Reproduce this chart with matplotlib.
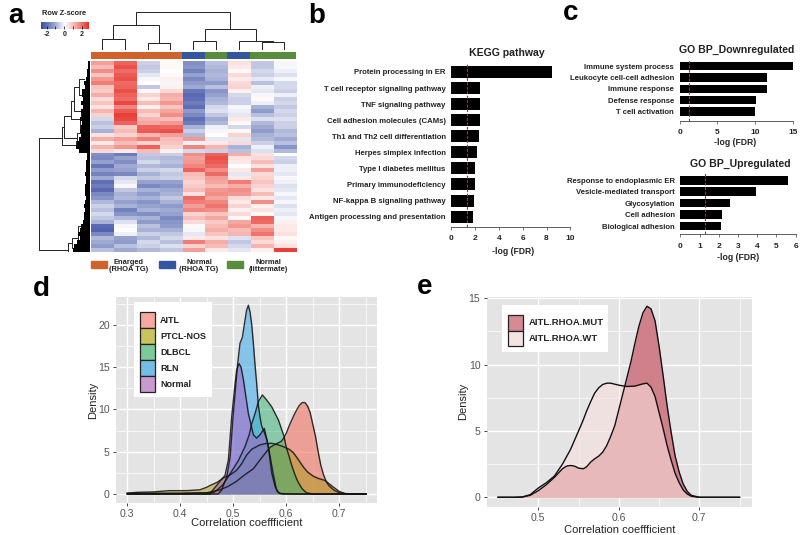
import matplotlib
matplotlib.use("Agg")
import matplotlib.pyplot as plt
import numpy as np
from matplotlib.colors import LinearSegmentedColormap
from matplotlib.patches import Rectangle

plt.rcParams['font.family'] = ['Liberation Sans', 'DejaVu Sans']

# ---------- panel a data ----------
heat_rows = [
 [1.3,2.0,-.6,.1,-1.5,-.8,.4,-.7,-.1],
 [.9,2.2,-.7,.1,-1.4,-.9,.3,-.7,-.1],
 [1.5,1.9,-.6,.0,-1.7,-1.0,.1,-.5,-.2],
 [.8,2.1,-.3,.1,-1.2,-.9,.5,-.6,-.4],
 [1.4,2.2,-.1,.2,-1.6,-1.0,.3,-.3,-.1],
 [1.7,1.9,.0,-.1,-1.3,-1.3,.5,-.8,-.5],
 [.8,2.0,-.7,.2,-1.1,-.8,.6,-.2,-.5],
 [.7,2.2,.1,.5,-1.9,-1.4,.2,-.3,-.6],
 [1.1,2.0,.6,1.1,-2.1,-1.2,-.5,-.1,-.2],
 [.5,1.9,.3,1.0,-2.0,-1.0,-.6,.1,-.6],
 [.8,2.3,.9,1.4,-1.8,-.9,-.6,-.2,-.5],
 [.4,1.6,.2,.8,-2.0,-.5,-.1,-1.0,-.7],
 [1.0,2.1,.9,1.2,-1.3,-.4,-.2,-1.3,-.5],
 [.6,2.4,.6,1.5,-1.6,-.7,-.3,-.8,-.6],
 [-.5,2.3,1.0,.9,-2.0,-1.1,.3,-.4,-.4],
 [-.8,2.0,1.2,1.4,-1.8,-.9,.1,-.9,-.6],
 [-.6,.7,2.0,1.9,-1.0,-.2,-.5,-1.1,-.6],
 [-1.0,.9,2.1,2.2,-.6,-.1,.1,-1.3,-.9],
 [.4,.6,1.0,1.3,-.9,.0,.6,-1.0,-.8],
 [1.1,1.3,1.7,.9,1.4,-.3,-.3,-.9,-1.1],
 [.3,.9,.6,.8,-.2,.3,.5,-.6,-.8],
 [1.0,1.4,2.0,.6,1.6,1.0,-1.0,-.2,-1.4],
 [.5,.3,.9,.2,-.5,-.6,-.8,-.4,-.9],
 [-1.5,-1.8,-.7,-.6,1.5,2.0,1.1,.4,.0],
 [-1.6,-1.2,-.8,-.9,1.3,2.2,.4,.5,-.5],
 [-1.2,-1.5,-.5,-.8,1.4,2.1,.3,.9,-.6],
 [-1.9,-1.1,-.9,-1.0,1.6,1.9,.0,.4,-.2],
 [-1.3,-1.2,-.6,-.5,2.0,1.5,.3,1.3,-.2],
 [-1.7,-1.6,-1.0,-.7,.9,1.9,-.3,.5,-.3],
 [-1.1,-.5,-.7,-.6,.8,1.3,.3,.6,-.1],
 [-2.0,-.3,-1.2,-1.2,.6,1.2,1.7,.8,-.2],
 [-1.8,-.1,-1.6,-1.4,.7,.9,1.1,.6,-.4],
 [-2.1,-.7,-1.0,-1.1,.9,1.4,1.5,.4,-.3],
 [-1.6,-1.0,-1.3,-1.0,.4,1.5,1.4,.9,-.1],
 [-1.4,-.9,-1.0,-.7,1.9,1.2,.5,.3,-.3],
 [-.9,-1.2,-1.4,-1.0,1.7,1.6,.3,1.5,-.1],
 [-.6,-1.0,-1.2,-1.3,1.3,1.8,.6,.2,-.4],
 [-.8,-1.7,-1.0,-1.1,1.6,1.5,.2,.4,-.2],
 [-.5,-1.4,-1.5,-1.2,.6,.8,.5,.1,-.3],
 [-.7,-.9,-1.0,-1.6,.9,1.2,.1,2.0,-.1],
 [-1.0,-.4,-1.3,-1.4,.5,.7,1.2,1.9,.2],
 [-2.1,-.1,-.8,-1.3,.1,.9,1.4,1.0,.3],
 [-2.2,.0,-1.0,-1.0,-.1,1.1,.9,1.5,.3],
 [-1.6,-.2,-.6,-.7,-.3,.8,1.0,1.8,.4],
 [-.9,-1.2,-.9,-.5,.3,.4,-.4,.8,.1],
 [-1.1,-1.3,-.5,-.8,1.7,1.1,-.7,.5,.2],
 [-1.3,-.8,-.6,-.4,.6,.9,-.5,1.0,.4],
 [-.8,-1.1,-.9,-.7,1.3,.3,-.3,.2,2.4],
]
heat_group = ['E', 'E', 'E', 'E', 'NR', 'NI', 'NR', 'NI', 'NI']
group_names = ['Enarged\n(RHOA TG)', 'Normal\n(RHOA TG)', 'Normal\n(littermate)']

# top dendrogram: left pos, left h, right pos, right h, h
col_merges = [
 (0.5, 0, 1.5, 0, 11),
 (2.5, 0, 3.5, 0, 7),
 (1.0, 11, 3.0, 7, 25),
 (4.5, 0, 5.5, 0, 9),
 (7.5, 0, 8.5, 0, 8),
 (6.5, 0, 8.0, 8, 9.5),
 (5.0, 9, 7.25, 9.5, 21),
 (2.0, 25, 6.1, 21, 38),
]
# row dendrogram: row a, h a, row b, h b, h
row_merges = [
 (19.3, 28, 47.5, 22, 51),
 (16.5, 26, 21.1, 14, 28),
 (13.7, 19, 19.4, 13, 26),
 (10.0, 16, 14.6, 10, 19),
 (6.6, 11, 12.5, 9, 16),
 (4.5, 6, 8.5, 8, 11),
 (12.0, 6, 14.5, 5, 9),
 (14.5, 5, 17.5, 7, 10),
 (18.0, 7, 20.5, 10, 13),
 (20.2, 6, 21.8, 3, 14),
 (45.8, 18, 48.0, 3, 22),
 (44.5, 12, 47.0, 8, 18),
 (41.5, 9, 46.0, 6, 12),
 (47.0, 2, 47.9, 2, 8),
]
row_leaf_rows = [i + 0.5 for i in range(48)]
row_leaf_depth = [2, 2, 3, 3, 4, 6, 5, 8, 8, 7, 9, 7, 9, 8, 10, 8, 9, 10, 9, 11, 13, 14, 11,
                  3, 3, 4, 4, 4, 5, 4, 4, 5, 5, 5, 4, 5, 6, 5, 6, 6, 7, 9, 10, 12, 10, 13, 16, 17]

# ---------- panel b / c data ----------
kegg_terms = ['Protein processing in ER', 'T cell receptor signaling pathway', 'TNF signaling pathway',
              'Cell adhesion molecules (CAMs)', 'Th1 and Th2 cell differentiation', 'Herpes simplex infection',
              'Type I diabetes mellitus', 'Primary immunodeficiency', 'NF-kappa B signaling pathway',
              'Antigen processing and presentation']
kegg_vals = [8.5, 2.44, 2.44, 2.44, 2.32, 2.2, 2.0, 1.96, 1.88, 1.85]
down_terms = ['Immune system process', 'Leukocyte cell-cell adhesion', 'Immune response',
              'Defense response', 'T cell activation']
down_vals = [15.0, 11.6, 11.6, 10.1, 10.05]
up_terms = ['Response to endoplasmic ER', 'Vesicle-mediated transport', 'Glycosylation',
            'Cell adhesion', 'Biological adhesion']
up_vals = [5.6, 3.92, 2.58, 2.15, 2.13]
fdr_cut = 1.3

# ---------- panel d data ----------
aitl_x = [.30,.35,.40,.45,.475,.49,.506,.52,.538,.55,.56,.569,.58,.59,.595,.60,.605,.61,.615,.62,.625,.63,.635,.64,.645,.65,.655,.66,.665,.67,.675,.68,.69,.70,.717,.75]
aitl_y = [.1,.1,.1,.15,.5,.9,1.5,2.2,3,4,4.8,5.5,5.9,6.2,6.6,7.2,8,8.7,9.4,10,10.5,10.8,10.8,10.4,9.6,8.2,6.8,5.0,3.4,2.3,1.5,1.0,.45,.15,0,0]
ptcl_x = [.30,.318,.349,.38,.412,.437,.45,.456,.47,.481,.495,.506,.515,.525,.535,.55,.56,.572,.585,.594,.605,.613,.62,.632,.64,.651,.66,.673,.68,.689,.70,.711,.75]
ptcl_y = [.1,.2,.25,.4,.4,.5,.8,1.0,1.4,1.9,2.3,2.8,3.5,4.6,5.3,5.8,5.95,6,5.8,5.6,5.3,4.9,4.3,3.2,2.6,2.1,1.85,1.6,1.25,.8,.3,.05,0]
dlbcl_x = [.30,.40,.44,.462,.47,.48,.49,.50,.51,.522,.53,.5347,.541,.5472,.5548,.563,.5724,.585,.5957,.60,.605,.61,.615,.62,.625,.63,.638,.65,.75]
dlbcl_y = [0,.05,.1,.15,.5,1.1,2,3,4,5.6,7,8.3,9.5,10.9,11.7,11.1,10.3,8.75,6.8,5.5,4.5,3.4,2.5,1.7,1.1,.6,.15,0,0]
rln_x = [.30,.4717,.478,.4875,.494,.50,.5082,.5126,.517,.522,.525,.5284,.5315,.5347,.5378,.541,.544,.5472,.5504,.5535,.5566,.563,.5692,.5755,.5818,.588,.62,.75]
rln_y = [0,0,.5,2,4.4,9.5,15.4,17.8,18.5,20.5,21.7,22.3,21.5,20,17.8,15.2,13.1,10.5,9.1,8,7.6,6.5,4.5,2.3,.4,.05,0,0]
norm_x = [.30,.456,.459,.4717,.4843,.4906,.4969,.5032,.5064,.5108,.5145,.519,.5284,.5378,.544,.5504,.5585,.566,.5724,.5787,.585,.594,.75]
norm_y = [0,0,.28,1.25,2.2,4,9.1,13,14.65,15.4,15,13.5,9.5,7,6.6,7,7.75,5.6,2.5,.9,.15,0,0]
dens_names = ['AITL', 'PTCL-NOS', 'DLBCL', 'RLN', 'Normal']

# ---------- panel e data ----------
mut_x = [.45,.47,.48,.49,.50,.51,.52,.53,.535,.54,.545,.55,.556,.56,.565,.57,.575,.58,.585,.59,.595,.60,.605,.61,.615,.62,.625,.63,.635,.64,.645,.65,.655,.66,.665,.67,.675,.68,.685,.69,.70,.75]
mut_y = [0,0,.02,.15,.5,.95,1.5,2.15,2.35,2.4,2.35,2.2,2.15,2.3,2.65,2.9,3.1,3.4,3.9,4.6,5.4,6.6,7.8,9.0,10.2,11.6,12.9,13.9,14.4,14.2,13.3,11.4,9.2,6.9,4.9,3.1,1.9,1.0,.45,.15,0,0]
wt_x = [.45,.47,.48,.49,.50,.51,.52,.53,.54,.55,.555,.56,.565,.57,.575,.58,.585,.59,.60,.61,.62,.63,.635,.64,.645,.65,.655,.66,.665,.67,.675,.68,.685,.69,.70,.75]
wt_y = [0,0,.02,.2,.7,1.1,1.6,2.5,3.6,5.0,5.7,6.5,7.2,7.85,8.25,8.5,8.6,8.6,8.45,8.35,8.38,8.55,8.6,8.3,7.6,6.4,5.2,3.9,2.8,1.8,1.1,.55,.25,.08,0,0]
e_names = ['AITL.RHOA.MUT', 'AITL.RHOA.WT']

W, H = 800, 535
fig = plt.figure(figsize=(8, 5.35), dpi=100, facecolor='white')

def pax(x0, y0, x1, y1, **kw):
    return fig.add_axes([x0 / W, 1 - y1 / H, (x1 - x0) / W, (y1 - y0) / H], **kw)

def ftext(x, y, s, **kw):
    return fig.text(x / W, 1 - y / H, s, **kw)

def clean(ax):
    ax.set_xticks([]); ax.set_yticks([])
    for s in ax.spines.values():
        s.set_visible(False)

for lab, x, y in [('a', 8, 22.7), ('b', 308, 22.7), ('c', 563, 20), ('d', 33, 296), ('e', 417, 294)]:
    ftext(x, y, lab, fontsize=20, fontweight='bold', color='black', ha='left', va='baseline')

# ---- a ----
cmap = LinearSegmentedColormap.from_list('z', ['#3A4CA3', '#8F9BCB', '#FFFFFF', '#F4A09A', '#E8302A'])
ax = pax(90.5, 61, 295.7, 252)
ax.imshow(np.array(heat_rows), cmap=cmap, vmin=-2.6, vmax=2.6, aspect='auto', interpolation='nearest')
clean(ax)

gcol = {'E': '#D0622B', 'NR': '#34569F', 'NI': '#5A8C3E'}
ax = pax(90.5, 52.3, 295.7, 59.3)
for i, g in enumerate(heat_group):
    ax.bar(i + .5, 1, width=1, color=gcol[g])
ax.set_xlim(0, 9); ax.set_ylim(0, 1)
clean(ax)

ax = pax(90.5, 12, 295.7, 50)
for xa, ha, xb, hb, h in col_merges:
    ax.plot([xa, xa, xb, xb], [ha, h, h, hb], color='#222222', lw=0.7, solid_joinstyle='miter')
ax.set_xlim(0, 9); ax.set_ylim(0, 38.3)
ax.axis('off')

ax = pax(37, 61, 90, 252)
for ya, ha, yb, hb, h in row_merges:
    ax.plot([ha, h, h, hb], [ya, ya, yb, yb], color='#222222', lw=0.7)
ax.hlines(row_leaf_rows, 0, row_leaf_depth, color='black', lw=2.9)
ax.set_xlim(53, 0); ax.set_ylim(48, 0)
ax.axis('off')

ftext(64.5, 13.5, 'Row Z-score', fontsize=5.3, fontweight='bold', ha='center', va='center', color='#222222')
ax = pax(40.7, 22.3, 88, 29.3)
grad = np.linspace(-2.67, 2.67, 200).reshape(1, -1)
ax.imshow(grad, cmap=cmap, vmin=-2.67, vmax=2.67, aspect='auto', extent=[-2.67, 2.67, 0, 1])
ax.set_yticks([])
ax.set_xticks([-2, -1, 0, 1, 2])
ax.tick_params(axis='x', direction='in', length=2, width=.5, pad=1.5, labelsize=5, labelcolor='#222222')
ax.set_xticklabels(['-2', '', '0', '', '2'], fontweight='bold')
for s in ax.spines.values():
    s.set_visible(False)

ax = pax(85, 258, 300, 275)
ax.set_xlim(85, 300); ax.set_ylim(275, 258)
ax.axis('off')
for (x0, x1, tx), g, name in zip([(90.7, 107, 129), (159.3, 175.3, 199), (227.3, 243.3, 268)], ['E', 'NR', 'NI'], group_names):
    ax.add_patch(Rectangle((x0, 261), x1 - x0, 7, color=gcol[g]))
    ax.text(tx, 266, name, fontsize=5.4, fontweight='bold', ha='center', va='center', color='#222222', linespacing=1.0)

# ---- b, c ----
def barpanel(x0, x1, ytop, ybot, spacing, first_y, bar_h, xmax, ticks, terms, vals, title, title_x, title_y, red_top, lab_x, lab_y):
    ax = pax(x0, ytop, x1, ybot)
    ys = [first_y + i * spacing for i in range(len(vals))]
    ax.barh(ys, vals, height=bar_h, color='black')
    ax.set_xlim(0, xmax); ax.set_ylim(ybot, ytop)
    ax.vlines(fdr_cut, ybot, red_top, color='#C8222A', lw=.8, linestyles=(0, (2.5, 1.5)), zorder=5)
    for s in ['top', 'right', 'left']:
        ax.spines[s].set_visible(False)
    ax.spines['bottom'].set_linewidth(.6); ax.spines['bottom'].set_color('#444444')
    ax.set_xticks(ticks)
    ax.tick_params(axis='x', length=2.5, width=.5, pad=3.6, labelsize=6, color='#444444', labelcolor='#222222')
    for t in ax.get_xticklabels():
        t.set_fontweight('bold')
    ax.set_yticks(ys)
    ax.set_yticklabels(terms, fontsize=5.6, fontweight='bold', color='#222222')
    ax.tick_params(axis='y', length=0, pad=4)
    ax.patch.set_alpha(0)
    ftext(title_x, title_y, title, fontsize=7.6, fontweight='bold', ha='center', va='center', color='#222222')
    ftext(lab_x, lab_y, '-log (FDR)', fontsize=6.2, fontweight='bold', ha='center', va='center', color='#222222')

barpanel(451.3, 570.3, 60, 226.7, 16.07, 72, 12, 10, [0, 2, 4, 6, 8, 10], kegg_terms, kegg_vals,
         'KEGG pathway', 506.5, 52.5, 63, 513.5, 251.5)
barpanel(679.7, 792.7, 60, 120.7, 11.4, 66, 8.5, 15, [0, 5, 10, 15], down_terms, down_vals,
         'GO BP_Downregulated', 736.5, 49.5, 60, 735.5, 142)
barpanel(680.3, 795.7, 172, 234.3, 11.43, 180.3, 8.5, 6, [0, 1, 2, 3, 4, 5, 6], up_terms, up_vals,
         'GO BP_Upregulated', 740.5, 163.5, 172.5, 738.5, 257.5)

# ---- d, e ----
def gg(ax, xmaj, xmin, ymaj, ymin, xlab_y, ylab_x):
    ax.set_facecolor('#E4E4E4')
    for s in ax.spines.values():
        s.set_visible(False)
    ax.set_xticks(xmaj); ax.set_yticks(ymaj)
    ax.set_xticks(xmin, minor=True); ax.set_yticks(ymin, minor=True)
    ax.grid(which='major', color='white', lw=1.0)
    ax.grid(which='minor', color='white', lw=.5)
    ax.set_axisbelow(True)
    ax.tick_params(which='minor', length=0)
    ax.tick_params(which='major', length=2.5, width=.7, color='#444444', labelcolor='#555555', labelsize=7.6, pad=2)
    ax.set_xlabel('Correlation coeffficient', fontsize=8, color='#222222')
    ax.set_ylabel('Density', fontsize=8, color='#222222')
    ax.xaxis.set_label_coords(.5, xlab_y)
    ax.yaxis.set_label_coords(ylab_x, .5)

def legend_box(x0, y0, x1, y1, sx0, sx1, sy0, step, tx, names, cols, fs):
    ax = pax(x0, y0, x1, y1)
    ax.set_xlim(x0, x1); ax.set_ylim(y1, y0)
    ax.set_xticks([]); ax.set_yticks([])
    ax.set_facecolor('white')
    for s in ax.spines.values():
        s.set_visible(False)
    for i, (n, c) in enumerate(zip(names, cols)):
        ax.add_patch(Rectangle((sx0, sy0 + i * step), sx1 - sx0, step - .5, facecolor=c, edgecolor='#222222', lw=.9))
        ax.text(tx, sy0 + i * step + step / 2 - .2, n, fontsize=fs, fontweight='bold', va='center', ha='left', color='#222222')

ax = pax(116, 297, 377, 503)
gg(ax, [.3, .4, .5, .6, .7], [.35, .45, .55, .65, .75], [0, 5, 10, 15, 20], [2.5, 7.5, 12.5, 17.5, 22.5], -.075, -.067)
ax.set_xlim(.2787, .771); ax.set_ylim(-1.06, 23.27)
d_series = [(aitl_x, aitl_y, '#F08070', .68), (ptcl_x, ptcl_y, '#B09A20', .55), (dlbcl_x, dlbcl_y, '#30B070', .5),
            (rln_x, rln_y, '#38A8EC', .55), (norm_x, norm_y, '#B050C0', .46)]
for x, y, c, a in d_series:
    ax.fill_between(x, 0, y, color=c, alpha=a, lw=0)
    ax.plot(x, y, color='#111111', lw=1.0, alpha=.85)
legend_box(134.3, 302, 212.3, 396.7, 139.7, 155, 312.3, 16, 160, dens_names,
           ['#F5A8A0', '#C9C45E', '#7CC99A', '#76BDE3', '#C89AD0'], 6.5)

ax = pax(486.7, 296.7, 751.7, 506.7)
gg(ax, [.5, .6, .7], [.55, .65, .75], [0, 5, 10, 15], [2.5, 7.5, 12.5], -.085, -.071)
ax.set_xlim(.5 - (538.3 - 486.7) / 805, .5 + (751.7 - 538.3) / 805)
ax.set_ylim(-(506.7 - 497.3) / 13.27, (497.3 - 296.7) / 13.27)
ax.fill_between(mut_x, 0, mut_y, color='#D0808A', alpha=1, lw=0)
ax.plot(mut_x, mut_y, color='#111111', lw=1)
ax.fill_between(wt_x, 0, wt_y, color='#F8E0DC', alpha=.6, lw=0)
ax.plot(wt_x, wt_y, color='#111111', lw=1)
legend_box(502, 305, 607.7, 352, 507.7, 523, 315.3, 15.7, 528.7, e_names, ['#D68A93', '#F4E3E3'], 6.8)

fig.savefig('out.png', dpi=100, facecolor='white')
